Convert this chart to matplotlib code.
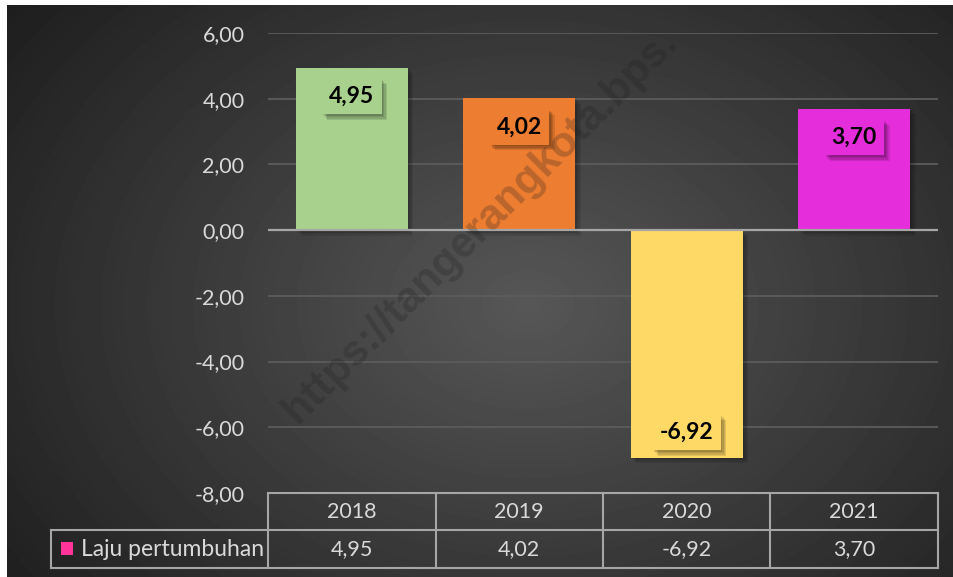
import numpy as np
import matplotlib
matplotlib.use("Agg")
import matplotlib.pyplot as plt
import matplotlib.patheffects as pe
from matplotlib.patches import Rectangle

plt.rcParams['font.family'] = ['Lato', 'DejaVu Sans']

# data
years = ['2018', '2019', '2020', '2021']
laju = [4.95, 4.02, -6.92, 3.70]
bar_colors = ['#a9d18e', '#ed7d31', '#ffd966', '#e62ddc']
series_name = 'Laju pertumbuhan'
yticks = [-8, -6, -4, -2, 0, 2, 4, 6]

W, H = 954, 577
fig = plt.figure(figsize=(W / 100, H / 100), dpi=100)
fig.patch.set_facecolor('white')

# background with radial gradient
bg = fig.add_axes([7 / W, 0, 1 - 7 / W, 1 - 5 / H])
bg.set_axis_off()
yy, xx = np.mgrid[0:572, 0:947]
d = np.sqrt(((xx - 520) / 560.0) ** 2 + ((yy - 300) / 420.0) ** 2)
val = 0.34 - 0.19 * np.clip(d, 0, 1.2)
bg.imshow(val, cmap='gray', vmin=0, vmax=1, aspect='auto', interpolation='bilinear')

def fmt(v):
    return f"{v:.2f}".replace('.', ',')

def soft_shadow(a=0.1):
    # stack of small offset shadows -> blurred look
    fx = [pe.withSimplePatchShadow(offset=(o, -o), shadow_rgbFace='black', alpha=a) for o in (4, 3, 2, 1)]
    return fx

# main axes
ax = fig.add_axes([268 / W, 1 - 493 / H, 670 / W, 460 / H])
ax.set_facecolor('none')
x = np.arange(len(years))
ax.set_xlim(-0.5, len(years) - 0.5)
ax.set_ylim(-8, 6)

for t in yticks:
    if t == 0 or t == -8:
        continue
    ax.axhline(t, color='#5c5c5c', lw=1.3, zorder=1)

bars = ax.bar(x, laju, width=0.67, color=bar_colors, zorder=3)
for b in bars:
    b.set_path_effects(soft_shadow(0.08))
ax.axhline(0, color='#a6a6a6', lw=1.6, zorder=4)

for xi, v, c in zip(x, laju, bar_colors):
    off = -29 if v > 0 else 25
    t = ax.annotate(fmt(v), xy=(xi, v), xytext=(0, off), textcoords='offset pixels',
                    ha='center', va='center', fontsize=16.5, fontweight='bold', color='black',
                    bbox=dict(boxstyle='square,pad=0.32', fc=c, ec='none'), zorder=5)
    t.get_bbox_patch().set_path_effects(soft_shadow(0.11))

ax.set_yticks(yticks)
ax.set_yticklabels([fmt(t) for t in yticks], color='#d9d9d9', fontsize=15.5)
ax.tick_params(axis='y', length=0, pad=17)
ax.set_xticks([])
for s in ax.spines.values():
    s.set_visible(False)

# data table under the axes
tr = ax.transAxes
r1 = -37 / 460
r2 = -75 / 460
xl = (51 - 268) / 670
lc = '#a6a6a6'
lw = 1.5
ax.plot([0, 1], [0, 0], color=lc, lw=lw, transform=tr, clip_on=False)
ax.plot([xl, 1], [r1, r1], color=lc, lw=lw, transform=tr, clip_on=False)
ax.plot([xl, 1], [r2, r2], color=lc, lw=lw, transform=tr, clip_on=False)
ax.plot([xl, xl], [r1, r2], color=lc, lw=lw, transform=tr, clip_on=False)
for k in range(len(years) + 1):
    xk = k / len(years)
    ax.plot([xk, xk], [0, r2], color=lc, lw=lw, transform=tr, clip_on=False)
for k, (yr, v) in enumerate(zip(years, laju)):
    xc = (k + 0.5) / len(years)
    ax.text(xc, r1 / 2, yr, transform=tr, ha='center', va='center', color='#d9d9d9', fontsize=15.5)
    ax.text(xc, (r1 + r2) / 2, fmt(v), transform=tr, ha='center', va='center', color='#d9d9d9', fontsize=15.5)

# legend key in table
fig.patches.append(Rectangle((61 / W, 1 - 555 / H), 12 / W, 13 / H, transform=fig.transFigure,
                             facecolor='#ff3399', edgecolor='none'))
fig.text(81 / W, 1 - 549 / H, series_name, ha='left', va='center', color='#d9d9d9', fontsize=16.5)

# watermark (only the part visible in the source image)
fig.text(298 / W, 1 - 425 / H, 'https://tangerangkota.bps.', rotation=45, rotation_mode='anchor',
         ha='left', va='baseline', fontsize=31, fontweight='bold', color='#1e1e1e', alpha=0.25,
         family=['Liberation Sans', 'DejaVu Sans'])

fig.savefig('out.png', dpi=100, facecolor=fig.get_facecolor())
